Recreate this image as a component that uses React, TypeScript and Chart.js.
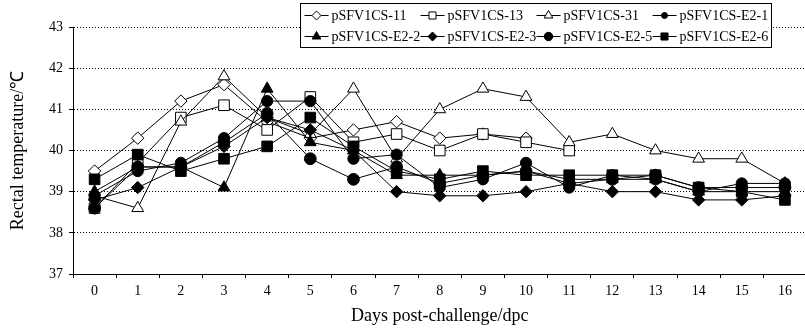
import React, { useEffect, useRef } from 'react';
import { Chart, registerables } from 'chart.js';

Chart.register(...registerables);

// ---- data ----
const days = ['0', '1', '2', '3', '4', '5', '6', '7', '8', '9', '10', '11', '12', '13', '14', '15', '16'];
const seriesNames = [
  'pSFV1CS-11', 'pSFV1CS-13', 'pSFV1CS-31', 'pSFV1CS-E2-1',
  'pSFV1CS-E2-2', 'pSFV1CS-E2-3', 'pSFV1CS-E2-5', 'pSFV1CS-E2-6',
];
const cs11 = [39.5, 40.3, 41.2, 41.6, 40.7, 40.3, 40.5, 40.7, 40.3, 40.4, 40.3, null, null, null, null, null, null];
const cs13 = [38.6, 39.7, 40.8, 41.1, 40.5, 41.3, 40.2, 40.4, 40.0, 40.4, 40.2, 40.0, null, null, null, null, null];
const cs31 = [38.9, 38.6, 40.7, 41.8, 40.8, 40.4, 41.5, 39.8, 41.0, 41.5, 41.3, 40.2, 40.4, 40.0, 39.8, 39.8, 39.2];
const e21 = [38.9, 39.5, 39.7, 40.3, 41.2, 41.2, 39.8, 39.9, 39.1, 39.3, 39.7, 39.1, 39.4, 39.3, 39.0, 39.2, 39.2];
const e22 = [39.0, 39.6, 39.6, 39.1, 41.5, 40.2, 40.0, 39.4, 39.4, 39.4, 39.5, 39.3, 39.3, 39.3, 39.0, 39.0, 39.0];
const e23 = [38.8, 39.1, 39.6, 40.1, 40.8, 40.5, 40.0, 39.0, 38.9, 38.9, 39.0, 39.2, 39.0, 39.0, 38.8, 38.8, 38.9];
const e25 = [38.6, 39.6, 39.6, 40.2, 40.9, 39.8, 39.3, 39.6, 39.2, 39.4, 39.5, 39.2, 39.3, 39.4, 39.1, 39.1, 39.1];
const e26 = [39.3, 39.9, 39.5, 39.8, 40.1, 40.8, 40.1, 39.5, 39.3, 39.5, 39.4, 39.4, 39.4, 39.4, 39.1, 39.0, 38.8];
const seriesValues = [cs11, cs13, cs31, e21, e22, e23, e25, e26];
const yTicks = [37, 38, 39, 40, 41, 42, 43];

// ---- styles ----
type Mk = { shape: 'diamond' | 'square' | 'triangle' | 'circle'; filled: boolean; r: number; lr: number };
const markers: Mk[] = [
  { shape: 'diamond', filled: false, r: 6.2, lr: 4.5 },
  { shape: 'square', filled: false, r: 7.5, lr: 5 },
  { shape: 'triangle', filled: false, r: 6.8, lr: 5 },
  { shape: 'circle', filled: true, r: 5.6, lr: 3 },
  { shape: 'triangle', filled: true, r: 6.8, lr: 5 },
  { shape: 'diamond', filled: true, r: 6.2, lr: 4.5 },
  { shape: 'circle', filled: true, r: 5.9, lr: 4.2 },
  { shape: 'square', filled: true, r: 7.5, lr: 5 },
];
const styleMap: Record<string, string> = { diamond: 'rectRot', square: 'rect', triangle: 'triangle', circle: 'circle' };

const FONT = "'Liberation Serif', 'Times New Roman', serif";

function drawMarker(ctx: CanvasRenderingContext2D, m: Mk, x: number, y: number, r: number) {
  ctx.beginPath();
  if (m.shape === 'diamond') {
    ctx.moveTo(x, y - r); ctx.lineTo(x + r, y); ctx.lineTo(x, y + r); ctx.lineTo(x - r, y); ctx.closePath();
  } else if (m.shape === 'square') {
    const s = r * Math.SQRT1_2;
    ctx.rect(x - s, y - s, 2 * s, 2 * s);
  } else if (m.shape === 'triangle') {
    ctx.moveTo(x, y - r);
    ctx.lineTo(x + r * Math.sin(2 * Math.PI / 3), y - r * Math.cos(2 * Math.PI / 3));
    ctx.lineTo(x - r * Math.sin(2 * Math.PI / 3), y - r * Math.cos(2 * Math.PI / 3));
    ctx.closePath();
  } else {
    ctx.arc(x, y, r, 0, Math.PI * 2);
  }
  ctx.fillStyle = m.filled ? '#000' : '#fff';
  ctx.fill();
  ctx.strokeStyle = '#000';
  ctx.lineWidth = 1;
  ctx.stroke();
}

const legendPlugin = {
  id: 'boxLegend',
  afterDraw(chart: any) {
    const ctx: CanvasRenderingContext2D = chart.ctx;
    ctx.save();
    const L = 300.5, T = 3.5, R = 771.5, B = 47.5;
    ctx.fillStyle = '#fff';
    ctx.fillRect(L, T, R - L, B - T);
    ctx.strokeStyle = '#000';
    ctx.lineWidth = 1;
    ctx.strokeRect(L, T, R - L, B - T);
    const colW = (R - L - 7) / 4;
    seriesNames.forEach((name, i) => {
      const row = Math.floor(i / 4);
      const col = i % 4;
      const x0 = L + 4 + col * colW;
      const y = Math.round(T + 11 + row * 21) + 0.5;
      ctx.strokeStyle = '#000';
      ctx.lineWidth = 1;
      ctx.beginPath();
      ctx.moveTo(x0, y);
      ctx.lineTo(x0 + 24, y);
      ctx.stroke();
      drawMarker(ctx, markers[i], x0 + 12, y, markers[i].lr);
      ctx.fillStyle = '#000';
      ctx.font = `14px ${FONT}`;
      ctx.textBaseline = 'middle';
      ctx.textAlign = 'left';
      ctx.fillText(name, x0 + 27, y + 0.5);
    });
    ctx.restore();
  },
};

export default function App() {
  const ref = useRef<HTMLCanvasElement | null>(null);

  useEffect(() => {
    document.body.style.margin = '0';
    const canvas = ref.current;
    if (!canvas) return;
    const datasets = seriesNames.map((name, i) => {
      const m = markers[i];
      return {
        label: name,
        data: seriesValues[i],
        borderColor: '#000',
        borderWidth: 1,
        backgroundColor: m.filled ? '#000' : '#fff',
        pointStyle: styleMap[m.shape],
        pointRadius: m.r,
        pointBorderWidth: 1,
        pointBorderColor: '#000',
        pointBackgroundColor: m.filled ? '#000' : '#fff',
        tension: 0,
        spanGaps: false,
        order: 8 - i,
      };
    });

    const chart = new Chart(canvas, {
      type: 'line',
      data: { labels: days, datasets },
      options: {
        animation: false,
        responsive: false,
        devicePixelRatio: 1,
        layout: { padding: { top: 27, right: 4, bottom: 0, left: 0 } },
        plugins: {
          legend: { display: false },
          tooltip: { enabled: false },
        },
        scales: {
          x: {
            type: 'category',
            offset: true,
            grid: {
              display: true,
              drawOnChartArea: false,
              offset: true,
              tickLength: 4,
              color: '#000',
              tickColor: '#000',
            },
            border: { display: true, color: '#000', width: 1 },
            ticks: {
              color: '#000',
              font: { family: FONT, size: 14 },
              padding: 5,
              maxRotation: 0,
              autoSkip: false,
            },
            title: {
              display: true,
              text: 'Days post-challenge/dpc',
              color: '#000',
              font: { family: FONT, size: 18 },
              padding: { top: 0, bottom: 1 },
            },
            afterFit: (scale: any) => { scale.height = 54; },
          },
          y: {
            type: 'linear',
            min: yTicks[0],
            max: yTicks[yTicks.length - 1],
            afterBuildTicks: (scale: any) => { scale.ticks = yTicks.map((v) => ({ value: v })); },
            grid: {
              color: '#000',
              lineWidth: 1,
              tickLength: 4,
              tickColor: '#000',
              tickBorderDash: [],
            },
            border: { display: true, color: '#000', width: 1, dash: [1, 2] },
            ticks: {
              color: '#000',
              font: { family: FONT, size: 14 },
              padding: 6,
            },
            title: {
              display: true,
              text: 'Rectal temperature/℃',
              color: '#000',
              font: { family: FONT, size: 18 },
              padding: { top: 7, bottom: 0 },
            },
            afterFit: (scale: any) => { scale.width = 73; },
          },
        },
      },
      plugins: [legendPlugin],
    });
    return () => chart.destroy();
  }, []);

  return (
    <div style={{ width: 805, height: 328, overflow: 'hidden', position: 'relative', background: '#fff' }}>
      <canvas ref={ref} width={815} height={328} style={{ width: 815, height: 328, display: 'block' }} />
    </div>
  );
}
